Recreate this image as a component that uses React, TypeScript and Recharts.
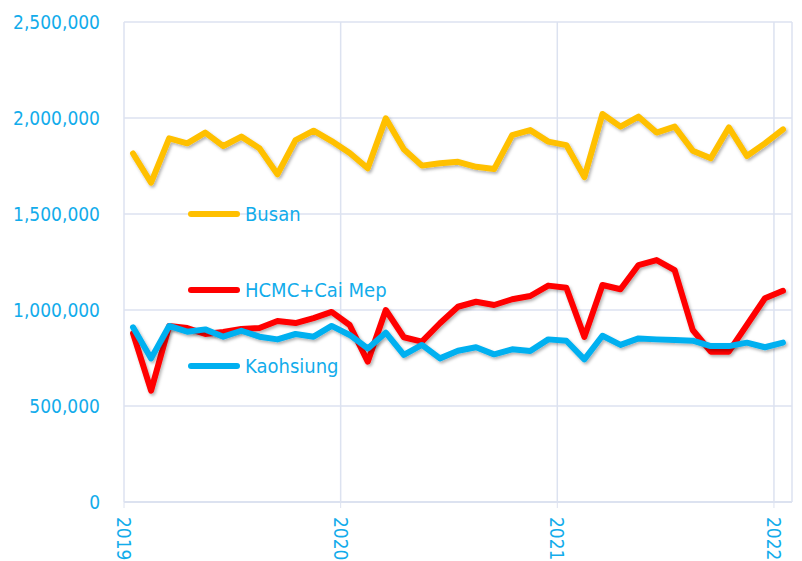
import React from "react";
import { LineChart, Line, XAxis, YAxis, CartesianGrid } from "recharts";

const months: string[] = [
  "2019-01","2019-02","2019-03","2019-04","2019-05","2019-06","2019-07","2019-08","2019-09","2019-10","2019-11","2019-12",
  "2020-01","2020-02","2020-03","2020-04","2020-05","2020-06","2020-07","2020-08","2020-09","2020-10","2020-11","2020-12",
  "2021-01","2021-02","2021-03","2021-04","2021-05","2021-06","2021-07","2021-08","2021-09","2021-10","2021-11","2021-12",
  "2022-01",
];

const busan: number[] = [
  1815000, 1663000, 1894000, 1868000, 1924000, 1854000, 1903000, 1842000, 1707000, 1885000, 1934000, 1880000,
  1818000, 1738000, 1998000, 1837000, 1752000, 1764000, 1772000, 1746000, 1734000, 1911000, 1937000, 1877000,
  1859000, 1692000, 2021000, 1955000, 2007000, 1924000, 1955000, 1830000, 1790000, 1951000, 1802000, 1868000,
  1941000,
];

const hcmc: number[] = [
  878000, 580000, 917000, 906000, 875000, 885000, 901000, 906000, 943000, 932000, 958000, 990000,
  922000, 731000, 1000000, 858000, 835000, 931000, 1017000, 1043000, 1026000, 1056000, 1073000, 1127000,
  1116000, 860000, 1130000, 1108000, 1234000, 1260000, 1208000, 896000, 783000, 783000, 922000, 1061000,
  1100000,
];

const kaohsiung: number[] = [
  910000, 748000, 917000, 887000, 899000, 861000, 892000, 861000, 847000, 875000, 861000, 917000,
  870000, 800000, 882000, 766000, 818000, 748000, 788000, 806000, 769000, 795000, 786000, 847000,
  840000, 743000, 866000, 818000, 852000, 847000, 844000, 840000, 812000, 812000, 830000, 806000,
  830000,
];

const yearTicks: number[] = [0, 12, 24, 36];
const yearLabels: string[] = ["2019", "2020", "2021", "2022"];
const yTicks: number[] = [0, 500000, 1000000, 1500000, 2000000, 2500000];

const seriesNames = ["Busan", "HCMC+Cai Mep", "Kaohsiung"];
const seriesColors = ["#FFC000", "#FF0000", "#00B0F0"];

const data = months.map((m, i) => ({
  month: m,
  x: i + 0.5,
  busan: busan[i],
  hcmc: hcmc[i],
  kaohsiung: kaohsiung[i],
}));

const TEXT = "#12ACEB";
const FONT = "'DejaVu Sans Condensed', 'Roboto Condensed', Roboto, sans-serif";

const XTick = (props: any) => {
  const { x, y, payload } = props;
  const idx = yearTicks.indexOf(payload.value);
  const label = idx >= 0 ? yearLabels[idx] : "";
  return (
    <text
      x={x}
      y={y}
      transform={`rotate(90, ${x}, ${y})`}
      textAnchor="start"
      dominantBaseline="central"
      fill={TEXT}
      fontSize={19}
      fontFamily={FONT}
    >
      {label}
    </text>
  );
};

const LegendBox = () => (
  <div style={{ position: "absolute", left: 188, top: 202, width: 300, height: 200, pointerEvents: "none" }}>
    {seriesNames.map((n, i) => (
      <div
        key={n}
        style={{
          position: "absolute",
          left: 0,
          top: i * 76,
          display: "flex",
          alignItems: "center",
          height: 24,
        }}
      >
        <div
          style={{
            width: 52,
            height: 6,
            borderRadius: 3,
            background: seriesColors[i],
            marginRight: 5,
          }}
        />
        <span style={{ color: TEXT, fontSize: 20, fontFamily: FONT, whiteSpace: "nowrap" }}>{n}</span>
      </div>
    ))}
  </div>
);

export default function App() {
  return (
    <div style={{ position: "absolute", left: 0, top: 0, width: 802, height: 561, background: "#fff" }}>
      <LineChart
        width={802}
        height={561}
        data={data}
        margin={{ top: 22, right: 10, left: 0, bottom: 0 }}
      >
        <defs>
          <filter id="lineShadow" x="-5%" y="-20%" width="110%" height="140%">
            <feDropShadow dx="1.5" dy="2" stdDeviation="1.5" floodColor="#000" floodOpacity="0.3" />
          </filter>
        </defs>
        <CartesianGrid stroke="#DCE2F0" strokeWidth={1.5} />
        <XAxis
          dataKey="x"
          type="number"
          domain={[0, 37]}
          ticks={yearTicks}
          interval={0}
          height={59}
          axisLine={{ stroke: "#DCE2F0", strokeWidth: 2 }}
          tickLine={{ stroke: "#DCE2F0" }}
          tickSize={6}
          tickMargin={9}
          tick={<XTick />}
        />
        <YAxis
          type="number"
          domain={[0, 2500000]}
          ticks={yTicks}
          width={124}
          axisLine={false}
          tickLine={false}
          tickSize={0}
          tickMargin={24}
          tick={{ fill: TEXT, fontSize: 19, fontFamily: FONT }}
          tickFormatter={(v: number) => v.toLocaleString("en-US")}
        />
        <Line
          type="linear"
          dataKey="busan"
          name="Busan"
          stroke={seriesColors[0]}
          strokeWidth={6}
          strokeLinejoin="round"
          strokeLinecap="round"
          dot={false}
          activeDot={false}
          filter="url(#lineShadow)"
          isAnimationActive={false}
        />
        <Line
          type="linear"
          dataKey="hcmc"
          name="HCMC+Cai Mep"
          stroke={seriesColors[1]}
          strokeWidth={6}
          strokeLinejoin="round"
          strokeLinecap="round"
          dot={false}
          activeDot={false}
          filter="url(#lineShadow)"
          isAnimationActive={false}
        />
        <Line
          type="linear"
          dataKey="kaohsiung"
          name="Kaohsiung"
          stroke={seriesColors[2]}
          strokeWidth={6}
          strokeLinejoin="round"
          strokeLinecap="round"
          dot={false}
          activeDot={false}
          filter="url(#lineShadow)"
          isAnimationActive={false}
        />
      </LineChart>
      <LegendBox />
    </div>
  );
}
